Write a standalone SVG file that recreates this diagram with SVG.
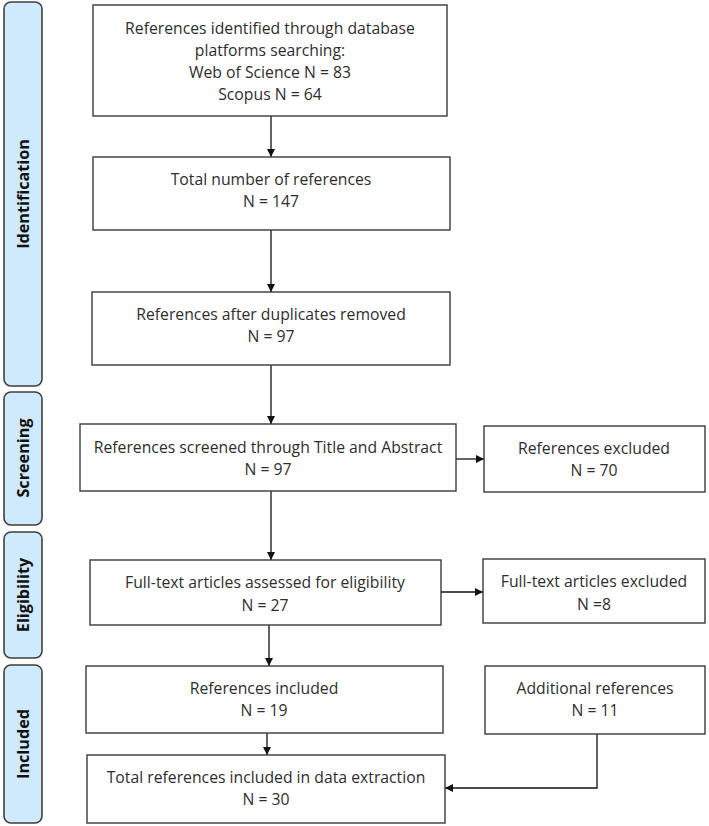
<svg xmlns="http://www.w3.org/2000/svg" width="709" height="826" viewBox="0 0 709 826">
<defs>
<style>
.bar{fill:#cfeafc;stroke:#3f3f3f;stroke-width:1.6}
.box{fill:#fff;stroke:#3a3a3a;stroke-width:1.4}
.t{font-family:"Open Sans","Noto Sans",sans-serif;font-size:15.75px;fill:#2e2e2e;text-anchor:middle}
.lab{font-family:"Open Sans","Noto Sans",sans-serif;font-size:16.2px;font-weight:bold;fill:#111;text-anchor:middle}
.c{fill:none;stroke:#111;stroke-width:1.3}
</style>
<marker id="ah" viewBox="0 0 10 10" refX="10" refY="5" markerWidth="8" markerHeight="8" markerUnits="userSpaceOnUse" orient="auto">
<path d="M0,0 L10,5 L0,10 z" fill="#111"/>
</marker>
</defs>
<rect width="709" height="826" fill="#fff"/>
<g id="stage-identification">
<rect class="bar" x="4" y="2" width="38" height="384" rx="7"/>
<text class="lab" transform="translate(29,194) rotate(-90)">Identification</text>
</g>
<g id="stage-screening">
<rect class="bar" x="4" y="392" width="38" height="133" rx="7"/>
<text class="lab" transform="translate(29,458) rotate(-90)">Screening</text>
</g>
<g id="stage-eligibility">
<rect class="bar" x="4" y="532" width="38" height="126" rx="7"/>
<text class="lab" transform="translate(29,595) rotate(-90)">Eligibility</text>
</g>
<g id="stage-included">
<rect class="bar" x="4" y="665" width="38" height="158" rx="7"/>
<text class="lab" transform="translate(29,744) rotate(-90)">Included</text>
</g>
<g id="connectors">
<line class="c" x1="271" y1="116" x2="271" y2="157" marker-end="url(#ah)"/>
<line class="c" x1="271" y1="230" x2="271" y2="292" marker-end="url(#ah)"/>
<line class="c" x1="271" y1="365" x2="271" y2="424" marker-end="url(#ah)"/>
<line class="c" x1="271" y1="491" x2="271" y2="560" marker-end="url(#ah)"/>
<line class="c" x1="269" y1="625" x2="269" y2="666" marker-end="url(#ah)"/>
<line class="c" x1="267" y1="733" x2="267" y2="755" marker-end="url(#ah)"/>
<line class="c" x1="456" y1="459" x2="484" y2="459" marker-end="url(#ah)"/>
<line class="c" x1="441" y1="592" x2="483" y2="592" marker-end="url(#ah)"/>
<polyline class="c" points="597,734 597,788 445,788" marker-end="url(#ah)"/>
</g>
<g id="n-identified">
<rect class="box" x="93" y="5" width="354" height="111"/>
<text class="t" x="270" y="34">References identified through database</text>
<text class="t" x="270" y="56">platforms searching:</text>
<text class="t" x="270" y="78">Web of Science N = 83</text>
<text class="t" x="270" y="100">Scopus N = 64</text>
</g>
<g id="n-total">
<rect class="box" x="93" y="157" width="357" height="73"/>
<text class="t" x="271" y="185">Total number of references</text>
<text class="t" x="271" y="207">N = 147</text>
</g>
<g id="n-dedup">
<rect class="box" x="92" y="292" width="358" height="73"/>
<text class="t" x="271" y="320">References after duplicates removed</text>
<text class="t" x="271" y="342">N = 97</text>
</g>
<g id="n-screened">
<rect class="box" x="80" y="424" width="376" height="67"/>
<text class="t" x="268" y="453">References screened through Title and Abstract</text>
<text class="t" x="268" y="475">N = 97</text>
</g>
<g id="n-excluded">
<rect class="box" x="484" y="426" width="221" height="66"/>
<text class="t" x="594" y="454">References excluded</text>
<text class="t" x="594" y="476">N = 70</text>
</g>
<g id="n-fulltext">
<rect class="box" x="90" y="560" width="351" height="65"/>
<text class="t" x="265" y="588">Full-text articles assessed for eligibility</text>
<text class="t" x="265" y="611">N = 27</text>
</g>
<g id="n-ft-excluded">
<rect class="box" x="483" y="559" width="222" height="64"/>
<text class="t" x="594" y="587">Full-text articles excluded</text>
<text class="t" x="594" y="610">N =8</text>
</g>
<g id="n-included">
<rect class="box" x="86" y="666" width="357" height="67"/>
<text class="t" x="264" y="694">References included</text>
<text class="t" x="264" y="716">N = 19</text>
</g>
<g id="n-additional">
<rect class="box" x="485" y="666" width="220" height="68"/>
<text class="t" x="595" y="694">Additional references</text>
<text class="t" x="595" y="716">N = 11</text>
</g>
<g id="n-final">
<rect class="box" x="87" y="755" width="358" height="68"/>
<text class="t" x="266" y="783">Total references included in data extraction</text>
<text class="t" x="266" y="805">N = 30</text>
</g>
</svg>
